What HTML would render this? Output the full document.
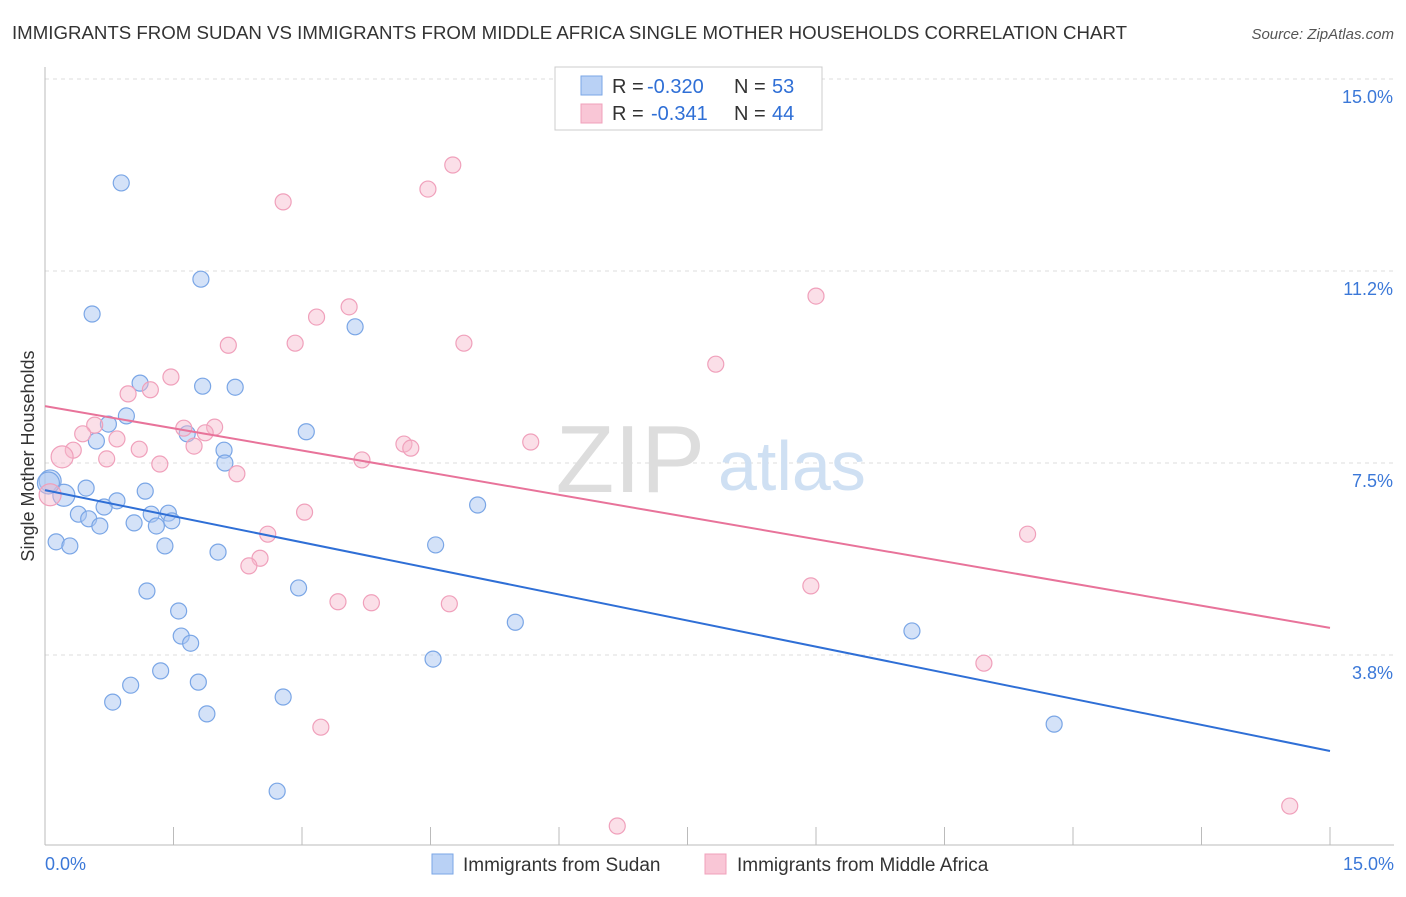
<!DOCTYPE html>
<html><head><meta charset="utf-8">
<style>
body{margin:0;background:#fff;font-family:"Liberation Sans",sans-serif;}
svg text{font-family:"Liberation Sans",sans-serif;}
</style></head>
<body>
<svg id="chart" width="1406" height="892">
<text x="12" y="39" font-size="18.6" fill="#333" textLength="1115" lengthAdjust="spacingAndGlyphs">IMMIGRANTS FROM SUDAN VS IMMIGRANTS FROM MIDDLE AFRICA SINGLE MOTHER HOUSEHOLDS CORRELATION CHART</text>
<text x="1394" y="39" font-size="15" fill="#555" font-style="italic" text-anchor="end">Source: ZipAtlas.com</text>
<text transform="translate(34,456) rotate(-90)" font-size="18" fill="#333" text-anchor="middle">Single Mother Households</text>
<g id="grid"></g>
<text x="705" y="492" font-size="96" fill="#ddd" text-anchor="end" font-family="Liberation Serif">ZIP</text>
<text x="718" y="490" font-size="70" fill="#cfe0f3">atlas</text>
<g id="marks"></g>
<g>
<rect x="555" y="67" width="267" height="63" fill="#fff" stroke="#ccc"/>
<rect x="581" y="76" width="21" height="19" fill="#b9d1f5" stroke="#7aa6e6"/>
<rect x="581" y="104" width="21" height="19" fill="#f9c6d6" stroke="#f0a0bb"/>
<text x="612" y="93" font-size="20" fill="#333">R =</text>
<text x="647" y="93" font-size="20" fill="#2f6fd6">-0.320</text>
<text x="734" y="93" font-size="20" fill="#333">N =</text>
<text x="772" y="93" font-size="20" fill="#2f6fd6">53</text>
<text x="612" y="120" font-size="20" fill="#333">R =</text>
<text x="651" y="120" font-size="20" fill="#2f6fd6">-0.341</text>
<text x="734" y="120" font-size="20" fill="#333">N =</text>
<text x="772" y="120" font-size="20" fill="#2f6fd6">44</text>
</g>
<g>
<rect x="432" y="854" width="21" height="20" fill="#b9d1f5" stroke="#7aa6e6"/>
<text x="463" y="871" font-size="19" fill="#333">Immigrants from Sudan</text>
<rect x="705" y="854" width="21" height="20" fill="#f9c6d6" stroke="#f0a0bb"/>
<text x="737" y="871" font-size="19" fill="#333">Immigrants from Middle Africa</text>
</g>
</svg>
<script>
const yTicks=[15,11.25,7.5,3.75];
const yTickLabels=["15.0%","11.2%","7.5%","3.8%"];
const xTickLabels=["0.0%","15.0%"];
const sudanX=[0.89,1.82,0.55,3.62,1.11,1.84,2.22,0.95,0.74,1.66,3.05,0.60,2.09,2.10,0.06,0.48,0.22,1.17,0.84,0.69,0.39,0.51,1.24,1.44,1.48,0.64,1.04,1.30,5.05,0.13,0.29,1.40,2.02,4.56,1.19,2.96,1.56,1.59,1.70,5.49,10.12,4.53,1.35,1.00,1.79,0.79,2.78,1.89,11.78,2.71,0.04];
const sudanY=[12.97,11.09,10.41,10.16,9.06,9.00,8.98,8.42,8.26,8.07,8.11,7.93,7.75,7.50,7.15,7.01,6.87,6.95,6.76,6.64,6.50,6.41,6.50,6.52,6.37,6.27,6.33,6.27,6.68,5.96,5.88,5.88,5.76,5.90,5.00,5.06,4.61,4.12,3.98,4.39,4.22,3.67,3.44,3.16,3.22,2.83,2.93,2.60,2.40,1.09,7.11];
const africaX=[4.76,4.47,2.78,3.55,9.00,3.17,2.14,2.92,4.89,7.83,1.47,1.23,0.97,0.58,1.62,1.98,1.87,0.44,0.84,0.33,1.10,1.74,4.19,4.27,5.67,0.20,0.72,1.34,3.70,2.24,0.06,3.03,2.60,11.47,2.51,2.38,8.94,3.42,3.81,4.72,10.96,3.22,14.53,6.68];
const africaY=[13.32,12.85,12.60,10.55,10.76,10.35,9.80,9.84,9.84,9.43,9.18,8.93,8.85,8.24,8.18,8.20,8.09,8.07,7.97,7.75,7.77,7.83,7.87,7.79,7.91,7.62,7.58,7.48,7.56,7.29,6.88,6.54,6.11,6.11,5.64,5.49,5.10,4.79,4.77,4.75,3.59,2.34,0.80,0.41];
const sudanTrend=[6.97,1.875];
const africaTrend=[8.61,4.28];
const X=v=>45+v*(1285/15);
const Y=v=>79+(15-v)*51.2;
const NS="http://www.w3.org/2000/svg";
const grid=document.getElementById('grid'),marks=document.getElementById('marks');
function mk(tag,at,parent){const e=document.createElementNS(NS,tag);for(const k in at)e.setAttribute(k,at[k]);parent.appendChild(e);return e;}
yTicks.forEach((t,i)=>{
 const l=mk('line',{x1:45,x2:1394,y1:Y(t),y2:Y(t),stroke:'#ddd','stroke-dasharray':'4,4'},grid);
 
 
 const tx=mk('text',{x:1393,y:Y(t)+24,'font-size':18,fill:'#3b78d8','text-anchor':'end'},grid);
 tx.textContent=yTickLabels[i];
 
 
});
const ax=mk('line',{x1:45,x2:45,y1:67,y2:845,stroke:'#bbb'},grid);


const bx=mk('line',{x1:45,x2:1394,y1:845,y2:845,stroke:'#bbb'},grid);


for(let i=1;i<=10;i++){const t=mk('line',{x1:X(i*1.5),x2:X(i*1.5),y1:827,y2:845,stroke:'#bbb'},grid);
 
 }
[[0,'start',45],[15,'end',1394]].forEach((d,i)=>{const t=mk('text',{x:d[2],y:870,'font-size':18,fill:'#3b78d8','text-anchor':d[1]},grid);t.textContent=xTickLabels[i];
 
 });
function pts(xs,ys,fill,stroke,name){xs.forEach((x,i)=>{const big=x<0.25&&ys[i]>6.8&&ys[i]<7.7;
 const c=mk('circle',{cx:X(x),cy:Y(ys[i]),r:big?11:8,fill:fill,stroke:stroke,'stroke-width':1.2},marks);
 
 });}
pts(sudanX,sudanY,'rgba(170,198,242,0.5)','#7aa6e6','sudan-point');
pts(africaX,africaY,'rgba(247,185,205,0.45)','#f0a0bb','middle-africa-point');
const l1=mk('line',{x1:X(0),y1:Y(sudanTrend[0]),x2:X(15),y2:Y(sudanTrend[1]),stroke:'#2f6fd6','stroke-width':2},marks);


const l2=mk('line',{x1:X(0),y1:Y(africaTrend[0]),x2:X(15),y2:Y(africaTrend[1]),stroke:'#e8739a','stroke-width':2},marks);


</script>
</body></html>
